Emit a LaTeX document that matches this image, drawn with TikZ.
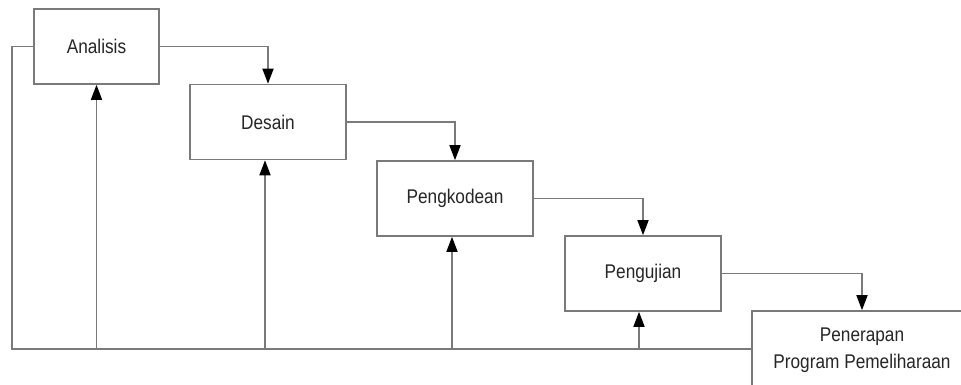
\documentclass[tikz,border=0pt]{standalone}
\usepackage{fontspec}
\usepackage{graphicx}
\setmainfont{Liberation Sans}
\usetikzlibrary{arrows.meta}
\definecolor{linegray}{HTML}{7A7A7A}
\definecolor{txt}{HTML}{262626}
\newcommand{\cz}[1]{\scalebox{0.87}[1]{#1}}
\begin{document}
\begin{tikzpicture}[x=1pt,y=-1pt,
  stage/.style={draw=linegray,line width=1.6pt,fill=white,rectangle,inner sep=0pt,
    minimum height=75pt,minimum width=156pt,text=txt,font=\fontsize{19.8}{27}\selectfont,align=center},
  conn/.style={draw=linegray,line width=1.6pt},
  arr/.style={conn,-{Triangle[width=11pt,length=15pt,fill=black,color=black]}}]
\useasboundingbox (0,0) rectangle (961,385);
\clip (0,0) rectangle (961,385);
\fill[white] (0,0) rectangle (961,385);
\node[stage,minimum width=125pt] (Analisis) at (96.5,46.5) {\cz{Analisis}};
\node[stage] (Desain) at (268,122) {\cz{Desain}};
\node[stage] (Pengkodean) at (455,198.5) {\cz{Pengkodean}};
\node[stage] (Pengujian) at (643,273.5) {\cz{Pengujian}};
\node[stage,minimum width=220pt,minimum height=90pt] (Penerapan) at (862,356) {};
\node[text=txt,font=\fontsize{19.8}{27}\selectfont,align=center,inner sep=0pt] (PenText) at (862,350) {\cz{Penerapan}\\\cz{Program Pemeliharaan}};
% forward arrows
\draw[arr] (Analisis.east) -| (Desain.north);
\draw[arr] (Desain.east) -| (Pengkodean.north);
\draw[arr] (Pengkodean.east) -| (Pengujian.north);
\draw[arr] (Pengujian.east) -| (Penerapan.north);
% feedback line
\coordinate (BR) at (Penerapan.west |- 0,349);
\coordinate (BL) at (12,349);
\draw[conn] (BR) -- (BL) |- (Analisis.west);
\draw[arr] (Analisis.south |- BL) -- (Analisis.south);
\draw[arr] ([xshift=-3pt]Desain.south |- BL) -- ([xshift=-3pt]Desain.south);
\draw[arr] ([xshift=-3pt]Pengkodean.south |- BL) -- ([xshift=-3pt]Pengkodean.south);
\draw[arr] ([xshift=-4pt]Pengujian.south |- BL) -- ([xshift=-4pt]Pengujian.south);
\end{tikzpicture}
\end{document}
